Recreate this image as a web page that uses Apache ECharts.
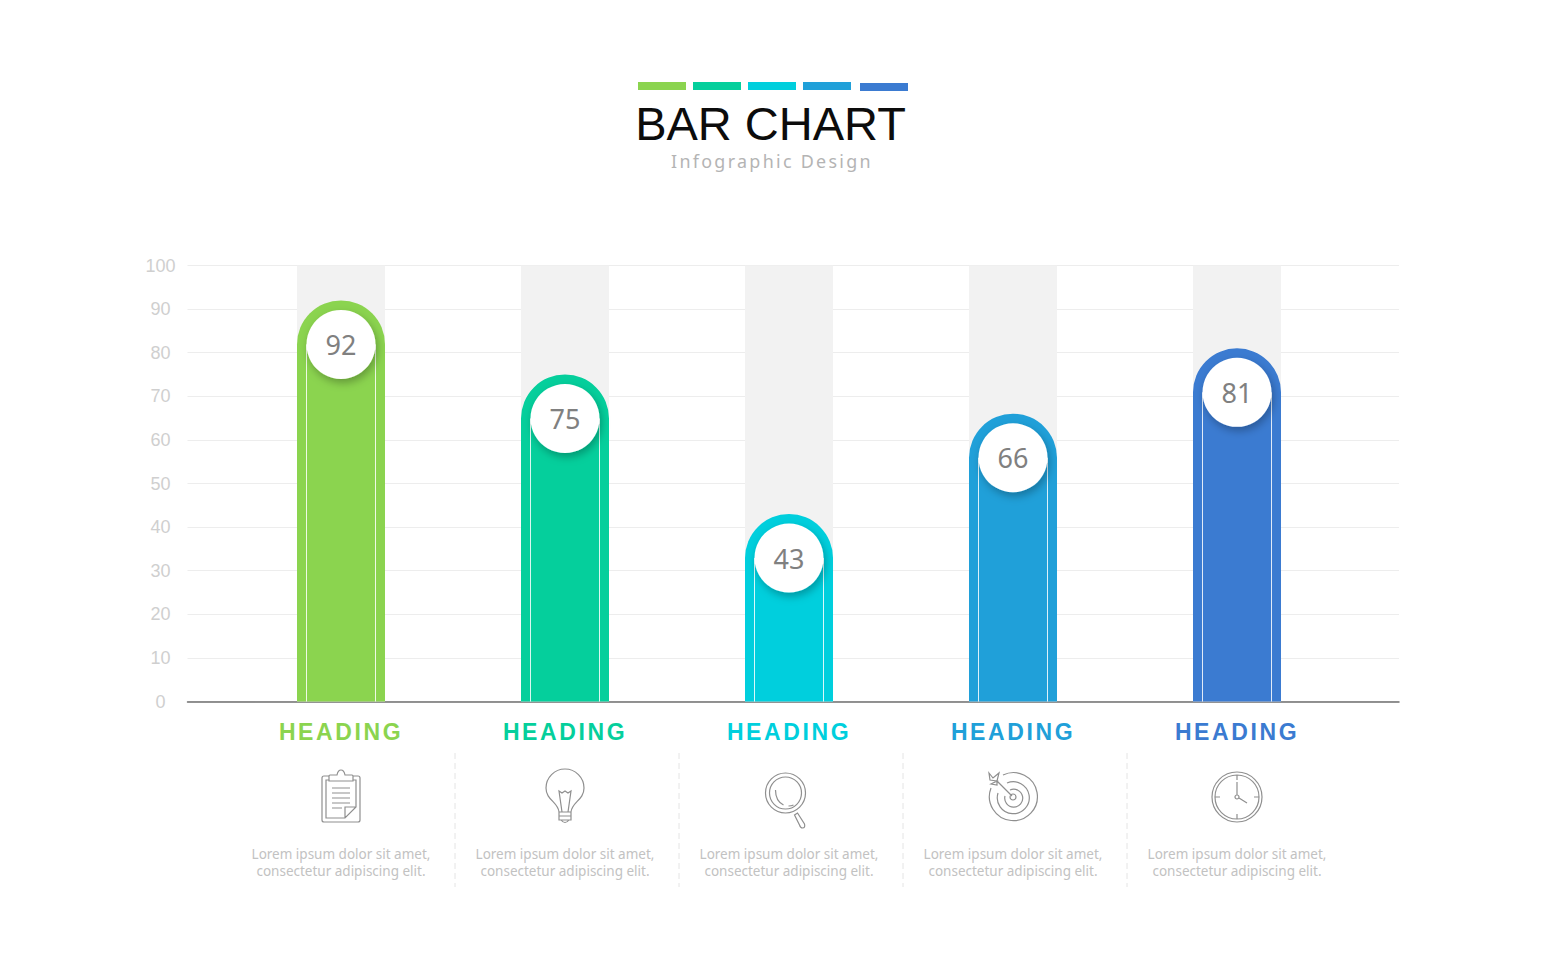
<!DOCTYPE html>
<html>
<head>
<meta charset="utf-8">
<title>Bar Chart</title>
<script src="https://cdn.jsdelivr.net/npm/echarts@6/dist/echarts.min.js"></script>
<style>
  html, body { margin: 0; height: 100%; background: #fff; }
  #chart { width: 1544px; height: 980px; }
  /* zrender has no letter spacing option, the svg renderer lets css do it */
  #chart text[style*="bold"] { letter-spacing: 2.6px; }
  #chart text[style*="17.9px"] { letter-spacing: 2.3px; }
</style>
</head>
<body>
<div id="chart"></div>
<script>
const categories = ['HEADING', 'HEADING', 'HEADING', 'HEADING', 'HEADING']
const values = [92, 75, 43, 66, 81]
const colors = ['#8bd44f', '#05cf9c', '#00cfdd', '#20a0d9', '#3b7bd1']
const yTicks = [0, 10, 20, 30, 40, 50, 60, 70, 80, 90, 100]
const caption = 'Lorem ipsum dolor sit amet,\nconsectetur adipiscing elit.'

// 图标路径，以图标中心为原点
const icons = [
  'M-12 -21H-17Q-19 -21 -19 -19V23Q-19 25 -17 25H17Q19 25 19 23V-19Q19 -21 17 -21H12' +
    'M-12 -17H-15V21H4L15 10V-17H12M4 21V10H15' +
    'M-12 -16V-21Q-12 -22 -11 -22H-4Q-3 -27 0 -27Q3 -27 4 -22H11Q12 -22 12 -21V-16Z' +
    'M-9 -9H9M-9 -4H9M-9 1H9M-9 6H9M-9 11H1',
  'M-6 15C-7 5 -19 3 -19 -9A19 19 0 1 1 19 -9C19 3 7 5 6 15Z' +
    'M-3 15L-6 -6L-3 -4L0 -6L3 -4L6 -6L3 15' +
    'M-6 15V19H6V15M-6 19V23H6V19M-4 23Q0 28 4 23',
  'M16.5 -4A20 20 0 1 1 -23.5 -4A20 20 0 1 1 16.5 -4Z' +
    'M12.5 -4A16 16 0 1 1 -19.5 -4A16 16 0 1 1 12.5 -4Z' +
    'M-13.5 -7Q-13.5 4 -5.5 8M-0.5 9Q2.5 9 4.5 8' +
    'M5.5 18L8.5 16L15.5 27Q16.5 31 13.5 31Q11.5 31 10.5 28Z',
  'M-10 -22A24 24 0 1 1 -22 -9M-6 -14A16 16 0 1 1 -15 -4M-3 -7A9 9 0 1 1 -8 -1' +
    'M3 0A3 3 0 1 1 -3 0A3 3 0 1 1 3 0Z' +
    'M-1 -1L-16 -16M-16 -16L-14 -24L-20 -19L-24 -24L-23 -17L-16 -16L-22 -13L-16 -12Z',
  'M25 0A25 25 0 1 1 -25 0A25 25 0 1 1 25 0Z' +
    'M22 0A22 22 0 1 1 -22 0A22 22 0 1 1 22 0Z' +
    'M0 -22V-17M0 22V17M-22 0H-17M22 0H17' +
    'M-2 0A2 2 0 1 1 2 0A2 2 0 1 1 -2 0ZM0 -2V-15M2 1L10 6'
]

const chart = echarts.init(document.getElementById('chart'), null, { renderer: 'svg' })

const plot = { top: 265.5, height: 436 }

const renderLines = (params, api) => {
  const [x, top] = api.coord([api.value(0), api.value(1)])
  const [, base] = api.coord([api.value(0), 0])
  const line = (dx) => ({
    type: 'line',
    shape: { x1: x + dx, y1: top + 44, x2: x + dx, y2: base },
    style: { stroke: 'rgba(255,255,255,0.85)', lineWidth: 1 }
  })
  return { type: 'group', children: [line(-34.5), line(34.5)] }
}

const renderFooter = (params, api) => {
  const i = params.dataIndex
  const [x] = api.coord([i, 0])
  const children = [
    {
      type: 'path',
      x,
      y: 797,
      shape: { pathData: icons[i], layout: 'none' },
      style: { fill: 'none', stroke: '#8f8f8f', lineWidth: 1.2 }
    },
    {
      type: 'text',
      x,
      y: 862.5,
      style: {
        text: caption,
        fill: '#c2c2c2',
        font: '13.5px "Noto Sans"',
        lineHeight: 17,
        align: 'center',
        verticalAlign: 'middle'
      }
    }
  ]
  if (i < categories.length - 1) {
    children.push({
      type: 'line',
      shape: { x1: x + 114, y1: 753, x2: x + 114, y2: 887 },
      style: { stroke: '#e4e4e4', lineWidth: 1, lineDash: [6, 4] }
    })
  }
  return { type: 'group', children }
}

chart.setOption({
  animation: false,
  backgroundColor: '#fff',
  title: [
    {
      text: 'BAR CHART',
      left: 765.5,
      top: 95,
      textAlign: 'center',
      textStyle: { fontFamily: 'Liberation Sans', fontSize: 47, fontWeight: 'normal', color: '#0c0c0c' }
    },
    {
      text: 'Infographic Design',
      left: 767,
      top: 147,
      textAlign: 'center',
      textStyle: { fontFamily: 'Noto Sans', fontSize: 17.9, fontWeight: 'normal', color: '#b4b4b4' }
    }
  ],
  graphic: colors.map((color, i) => ({
    type: 'rect',
    shape: { x: 638 + i * 55 + (i === 4 ? 2 : 0), y: i === 4 ? 83 : 82, width: 48, height: 8 },
    style: { fill: color }
  })),
  grid: [
    { left: 187.5, width: 1211.5, ...plot },
    { left: 229, width: 1120, ...plot }
  ],
  xAxis: [
    {
      gridIndex: 0,
      type: 'category',
      data: [''],
      axisTick: { show: false },
      axisLabel: { show: false },
      axisLine: { lineStyle: { color: '#6f6f6f', width: 1.5 } }
    },
    {
      gridIndex: 1,
      type: 'category',
      data: categories,
      axisTick: { show: false },
      axisLine: { show: false },
      axisLabel: {
        margin: 19,
        fontFamily: 'Liberation Sans',
        fontSize: 23,
        fontWeight: 'bold',
        color: (value, i) => colors[i]
      }
    }
  ],
  yAxis: [
    {
      gridIndex: 0,
      type: 'value',
      min: yTicks[0],
      max: yTicks[yTicks.length - 1],
      interval: 10,
      axisLine: { show: false },
      axisTick: { show: false },
      axisLabel: { margin: 27, align: 'center', fontFamily: 'Liberation Sans', fontSize: 18, color: '#cfcfcf' },
      splitLine: { lineStyle: { color: '#ededed', width: 1 } }
    },
    {
      gridIndex: 1,
      type: 'value',
      min: yTicks[0],
      max: yTicks[yTicks.length - 1],
      show: false
    }
  ],
  series: [
    {
      type: 'bar',
      xAxisIndex: 1,
      yAxisIndex: 1,
      data: values,
      barWidth: 88,
      showBackground: true,
      backgroundStyle: { color: '#f2f2f2' },
      itemStyle: {
        color: (p) => colors[p.dataIndex],
        borderRadius: [44, 44, 0, 0]
      }
    },
    {
      type: 'custom',
      xAxisIndex: 1,
      yAxisIndex: 1,
      data: values.map((v, i) => [i, v]),
      renderItem: renderLines,
      z: 3
    },
    {
      type: 'scatter',
      xAxisIndex: 1,
      yAxisIndex: 1,
      data: values,
      symbolSize: 69,
      symbolOffset: [0, 44],
      z: 4,
      itemStyle: {
        color: '#fff',
        opacity: 1,
        shadowColor: 'rgba(0,0,0,0.28)',
        shadowBlur: 8,
        shadowOffsetX: 2,
        shadowOffsetY: 4
      },
      label: {
        show: true,
        position: 'inside',
        fontFamily: 'Noto Sans',
        fontSize: 27,
        color: '#808080'
      }
    },
    {
      type: 'custom',
      xAxisIndex: 1,
      yAxisIndex: 1,
      clip: false,
      data: values.map((v, i) => [i, v]),
      renderItem: renderFooter,
      silent: true
    }
  ]
})
</script>
</body>
</html>
